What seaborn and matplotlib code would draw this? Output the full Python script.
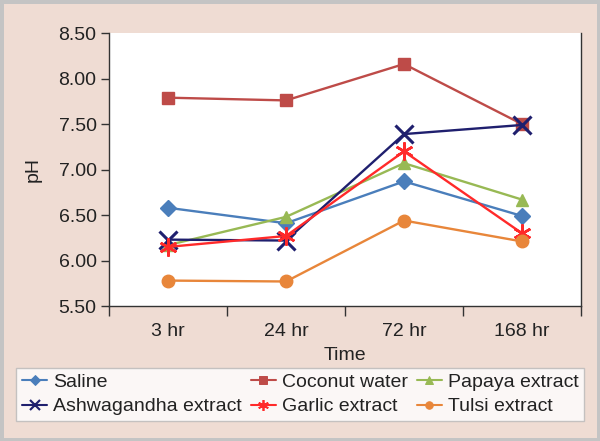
import matplotlib
matplotlib.use("Agg")
import matplotlib.pyplot as plt
import numpy as np
import pandas as pd
import seaborn as sns
from matplotlib.ticker import FixedLocator, FormatStrFormatter

times = ["3 hr", "24 hr", "72 hr", "168 hr"]
saline = [6.58, 6.41, 6.87, 6.49]
coconut = [7.79, 7.76, 8.16, 7.50]
papaya = [6.17, 6.48, 7.07, 6.67]
ashwagandha = [6.23, 6.22, 7.39, 7.49]
garlic = [6.15, 6.27, 7.20, 6.30]
tulsi = [5.78, 5.77, 6.44, 6.21]

series = ["Saline", "Coconut water", "Papaya extract",
          "Ashwagandha extract", "Garlic extract", "Tulsi extract"]
values = [saline, coconut, papaya, ashwagandha, garlic, tulsi]
colors = ["#4a7ebb", "#be4b48", "#98b954", "#1f1f6e", "#ff2a2a", "#e8863a"]
markers = ["D", "s", "^", "x", (6, 2, 0), "o"]
msizes = [8, 9, 9, 13, 13, 9]
mew = [1, 1, 1, 2.2, 1.8, 1]

df = pd.DataFrame({
    "Time": times * len(series),
    "pH": np.concatenate(values),
    "group": np.repeat(series, len(times)),
})

sns.set_style("white")
plt.rcParams["font.family"] = ["Liberation Sans", "DejaVu Sans"]

bg = "#efdcd3"
fig = plt.figure(figsize=(6, 4.41), dpi=100, facecolor=bg)
fig.patch.set_edgecolor("#c4c4c4")
fig.patch.set_linewidth(5)
ax = fig.add_axes([0.1817, 0.306, 0.7866, 0.619])

handles = []
for name, col, mk, ms, w in zip(series, colors, markers, msizes, mew):
    sub = df[df["group"] == name]
    sns.lineplot(data=sub, x="Time", y="pH", color=col, marker=mk,
                 markersize=ms, markeredgewidth=w, markeredgecolor=col,
                 linewidth=1.7, ax=ax, legend=False, sort=False)
    # legend proxy with smaller marker, like the original
    h, = plt.plot([], [], color=col, marker=mk, markersize=ms * 0.6,
                  markeredgewidth=w * 0.7, markeredgecolor=col, linewidth=1.5)
    handles.append(h)

ax.set_xlim(-0.5, 3.5)
ax.set_ylim(5.5, 8.5)
ax.set_yticks(np.arange(5.5, 8.51, 0.5))
ax.yaxis.set_major_formatter(FormatStrFormatter("%.2f"))
ax.xaxis.set_major_locator(FixedLocator([-0.5, 0.5, 1.5, 2.5, 3.5]))
ax.xaxis.set_minor_locator(FixedLocator([0, 1, 2, 3]))
ax.set_xticklabels([], minor=False)
ax.set_xticklabels(times, minor=True)
ax.tick_params(axis="x", which="major", length=7, width=1, color="#333333", direction="out")
ax.tick_params(axis="x", which="minor", length=0, labelsize=14, colors="#222222", pad=12)
ax.tick_params(axis="y", length=6, width=1, color="#333333", direction="out",
               labelsize=14, labelcolor="#222222", pad=3)
ax.xaxis.set_ticks_position("bottom")
ax.yaxis.set_ticks_position("left")

for s in ["left", "bottom", "right"]:
    ax.spines[s].set_color("#333333")
    ax.spines[s].set_linewidth(1)
ax.spines["top"].set_visible(False)

ax.set_xlabel("Time", fontsize=14, color="#222222", labelpad=5)
ax.set_ylabel("pH", fontsize=14, color="#222222", labelpad=12)

order = [0, 3, 1, 4, 2, 5]
leg = fig.legend([handles[i] for i in order], [series[i] for i in order],
                 ncol=3, loc="center", bbox_to_anchor=(0.027, 0.043, 0.947, 0.125),
                 mode="expand", fontsize=14, frameon=True, fancybox=False,
                 handlelength=1.3, handletextpad=0.3, borderpad=0.3,
                 labelspacing=0.35, borderaxespad=0)
leg.get_frame().set_edgecolor("#b8b8b8")
leg.get_frame().set_facecolor("white")
leg.get_frame().set_linewidth(1)
for t in leg.get_texts():
    t.set_color("#222222")

fig.savefig("out.png", dpi=100, facecolor=bg, edgecolor="#c4c4c4")
